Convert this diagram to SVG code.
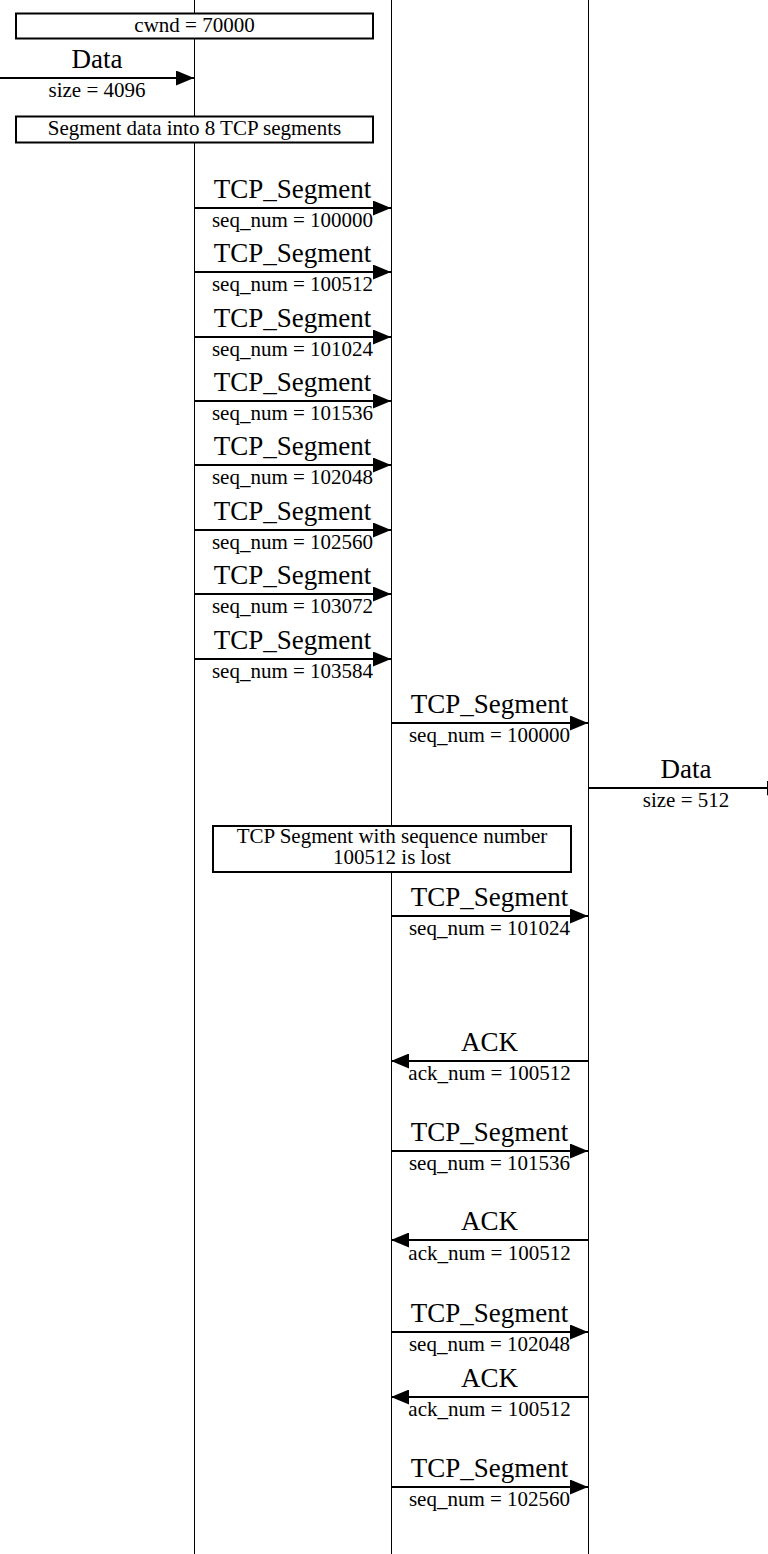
<svg xmlns="http://www.w3.org/2000/svg" width="768" height="1554" viewBox="0 0 768 1554">
<style>
.life{stroke:#000;stroke-width:1;fill:none}
.box{fill:#fff;stroke:#000;stroke-width:2}
.msg{stroke:#000;stroke-width:2;fill:none;marker-end:url(#ah)}
text{font-family:'Liberation Serif','DejaVu Serif',serif;fill:#000;text-anchor:middle}
.lbl{font-size:27px}
.sub{font-size:21px}
</style>
<defs>
<marker id="ah" viewBox="0 0 18 15" refX="18" refY="7.5" markerWidth="18" markerHeight="15" markerUnits="userSpaceOnUse" orient="auto">
<path d="M0,0 L18,7.5 L0,15 z" fill="#000"/>
</marker>
</defs>
<rect x="0" y="0" width="768" height="1554" fill="#fff"/>
<g id="lifelines">
<line id="lifeline-a" class="life" x1="194.5" y1="0" x2="194.5" y2="1554"/>
<line id="lifeline-b" class="life" x1="391.5" y1="0" x2="391.5" y2="1554"/>
<line id="lifeline-c" class="life" x1="588.5" y1="0" x2="588.5" y2="1554"/>
</g>
<g id="note-cwnd">
<rect class="box" x="16" y="13.5" width="357" height="25"/>
<text class="sub" x="194.5" y="32">cwnd = 70000</text>
</g>
<g id="note-segment">
<rect class="box" x="16" y="116.5" width="357" height="26"/>
<text class="sub" x="194.5" y="135">Segment data into 8 TCP segments</text>
</g>
<g id="note-lost">
<rect class="box" x="213" y="826" width="358" height="46"/>
<text class="sub" x="392" y="843">TCP Segment with sequence number</text>
<text class="sub" x="392" y="864">100512 is lost</text>
</g>
<g id="connectors">
<line class="msg" x1="0" y1="78" x2="194" y2="78"/>
<text class="lbl" x="97" y="68">Data</text>
<text class="sub" x="97" y="97">size = 4096</text>

<line class="msg" x1="194" y1="208" x2="391" y2="208"/>
<text class="lbl" x="292.5" y="198">TCP_Segment</text>
<text class="sub" x="292.5" y="227">seq_num = 100000</text>
<line class="msg" x1="194" y1="272" x2="391" y2="272"/>
<text class="lbl" x="292.5" y="262">TCP_Segment</text>
<text class="sub" x="292.5" y="291">seq_num = 100512</text>
<line class="msg" x1="194" y1="337" x2="391" y2="337"/>
<text class="lbl" x="292.5" y="327">TCP_Segment</text>
<text class="sub" x="292.5" y="356">seq_num = 101024</text>
<line class="msg" x1="194" y1="401" x2="391" y2="401"/>
<text class="lbl" x="292.5" y="391">TCP_Segment</text>
<text class="sub" x="292.5" y="420">seq_num = 101536</text>
<line class="msg" x1="194" y1="465" x2="391" y2="465"/>
<text class="lbl" x="292.5" y="455">TCP_Segment</text>
<text class="sub" x="292.5" y="484">seq_num = 102048</text>
<line class="msg" x1="194" y1="530" x2="391" y2="530"/>
<text class="lbl" x="292.5" y="520">TCP_Segment</text>
<text class="sub" x="292.5" y="549">seq_num = 102560</text>
<line class="msg" x1="194" y1="594" x2="391" y2="594"/>
<text class="lbl" x="292.5" y="584">TCP_Segment</text>
<text class="sub" x="292.5" y="613">seq_num = 103072</text>
<line class="msg" x1="194" y1="659" x2="391" y2="659"/>
<text class="lbl" x="292.5" y="649">TCP_Segment</text>
<text class="sub" x="292.5" y="678">seq_num = 103584</text>

<line class="msg" x1="391" y1="723" x2="588" y2="723"/>
<text class="lbl" x="489.5" y="713">TCP_Segment</text>
<text class="sub" x="489.5" y="742">seq_num = 100000</text>

<line class="msg" x1="588" y1="788" x2="785" y2="788"/>
<text class="lbl" x="686" y="778">Data</text>
<text class="sub" x="686" y="807">size = 512</text>

<line class="msg" x1="391" y1="916" x2="588" y2="916"/>
<text class="lbl" x="489.5" y="906">TCP_Segment</text>
<text class="sub" x="489.5" y="935">seq_num = 101024</text>

<line class="msg" x1="588" y1="1061" x2="391" y2="1061"/>
<text class="lbl" x="489.5" y="1051">ACK</text>
<text class="sub" x="489.5" y="1080">ack_num = 100512</text>

<line class="msg" x1="391" y1="1151" x2="588" y2="1151"/>
<text class="lbl" x="489.5" y="1141">TCP_Segment</text>
<text class="sub" x="489.5" y="1170">seq_num = 101536</text>

<line class="msg" x1="588" y1="1240" x2="391" y2="1240"/>
<text class="lbl" x="489.5" y="1230">ACK</text>
<text class="sub" x="489.5" y="1260">ack_num = 100512</text>

<line class="msg" x1="391" y1="1332" x2="588" y2="1332"/>
<text class="lbl" x="489.5" y="1322">TCP_Segment</text>
<text class="sub" x="489.5" y="1351">seq_num = 102048</text>

<line class="msg" x1="588" y1="1397" x2="391" y2="1397"/>
<text class="lbl" x="489.5" y="1387">ACK</text>
<text class="sub" x="489.5" y="1416">ack_num = 100512</text>

<line class="msg" x1="391" y1="1487" x2="588" y2="1487"/>
<text class="lbl" x="489.5" y="1477">TCP_Segment</text>
<text class="sub" x="489.5" y="1506">seq_num = 102560</text>
</g>
</svg>
